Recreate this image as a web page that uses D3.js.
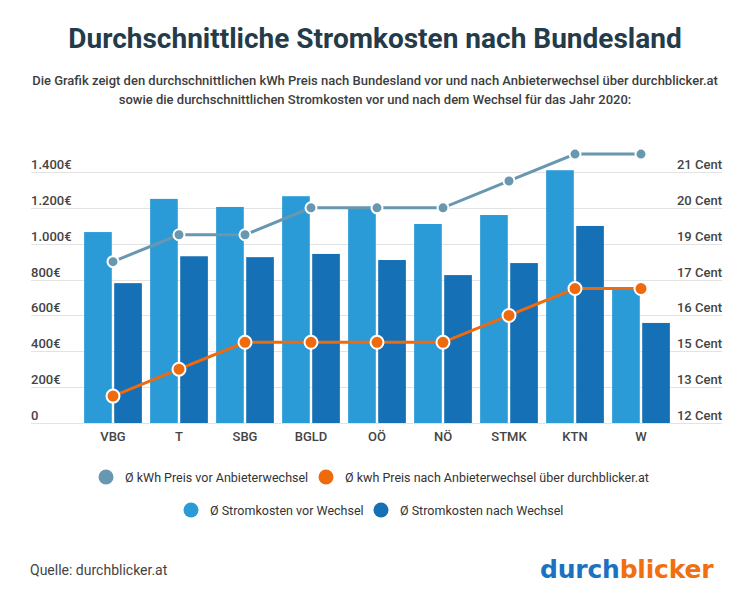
<!DOCTYPE html>
<html>
<head>
<meta charset="utf-8">
<script src="https://cdn.jsdelivr.net/npm/d3@7"></script>
<style>
  html, body { margin: 0; padding: 0; background: #fff; }
  svg { display: block; font-family: Roboto, "Noto Sans", sans-serif; }
</style>
</head>
<body>
<svg id="chart" width="750" height="600"></svg>
<script>
// ---- data ----
const categories = ["VBG", "T", "SBG", "BGLD", "OÖ", "NÖ", "STMK", "KTN", "W"];
const kostenVor = [1065, 1250, 1205, 1265, 1205, 1110, 1160, 1410, 750];
const kostenNach = [780, 930, 925, 943, 909, 825, 892, 1099, 558];
const preisVor = [18, 19, 19, 20, 20, 20, 21, 22, 22];
const preisNach = [13, 14, 15, 15, 15, 15, 16, 17, 17];
const leftTicks = [0, 200, 400, 600, 800, 1000, 1200, 1400];
const rightTicks = [12, 40/3, 44/3, 16, 52/3, 56/3, 20, 64/3];
const legendRow1 = ["Ø kWh Preis vor Anbieterwechsel", "Ø kwh Preis nach Anbieterwechsel über durchblicker.at"];
const legendRow2 = ["Ø Stromkosten vor Wechsel", "Ø Stromkosten nach Wechsel"];

const colVor = "#2b9bd7", colNach = "#1670b6", colGray = "#6897b0", colOrange = "#ef6a0c";

const svg = d3.select("#chart");

// title
svg.append("text").attr("x", 375).attr("y", 48).attr("text-anchor", "middle")
  .attr("font-size", 28).attr("font-weight", 700).attr("fill", "#243b4a")
  .text("Durchschnittliche Stromkosten nach Bundesland");
svg.append("text").attr("x", 375).attr("y", 85).attr("text-anchor", "middle")
  .attr("font-size", 13).attr("font-weight", 500).attr("fill", "#3d3d3d")
  .text("Die Grafik zeigt den durchschnittlichen kWh Preis nach Bundesland vor und nach Anbieterwechsel über durchblicker.at");
svg.append("text").attr("x", 375).attr("y", 104).attr("text-anchor", "middle")
  .attr("font-size", 13).attr("font-weight", 500).attr("fill", "#3d3d3d")
  .text("sowie die durchschnittlichen Stromkosten vor und nach dem Wechsel für das Jahr 2020:");

// scales
const y = d3.scaleLinear().domain([0, 1400]).range([423, 172]);
const y2 = d3.scaleLinear().domain([12, 64/3]).range([423, 172]);
const x0 = d3.scaleBand().domain(categories).range([80, 674]).paddingInner(0.125).paddingOuter(0.0625);
const x1 = d3.scaleBand().domain(["vor", "nach"]).range([0, x0.bandwidth()]).paddingInner(0.08);

// grid
const grid = svg.append("g");
grid.selectAll("line").data(leftTicks).join("line")
  .attr("x1", 31).attr("x2", 722)
  .attr("y1", d => Math.round(y(d)) + 0.5).attr("y2", d => Math.round(y(d)) + 0.5)
  .attr("stroke", "#e3e3e3").attr("stroke-width", 1);

// left axis labels
const fmt = d => d === 0 ? "0" : d3.format(",")(d).replace(/,/g, ".") + "€";
svg.append("g").selectAll("text").data(leftTicks).join("text")
  .attr("x", 31).attr("y", d => y(d) - 3)
  .attr("font-size", 13).attr("font-weight", 500).attr("fill", "#444")
  .text(fmt);

// right axis labels
svg.append("g").selectAll("text").data(rightTicks).join("text")
  .attr("x", 722).attr("y", d => y2(d) - 3).attr("text-anchor", "end")
  .attr("font-size", 13).attr("font-weight", 500).attr("fill", "#444")
  .text(d => Math.round(d) + " Cent");

// bars
const groups = svg.append("g").selectAll("g").data(categories).join("g")
  .attr("transform", d => `translate(${x0(d)},0)`);
groups.append("rect")
  .attr("x", x1("vor")).attr("width", x1.bandwidth())
  .attr("y", (d, i) => y(kostenVor[i])).attr("height", (d, i) => y(0) - y(kostenVor[i]))
  .attr("fill", colVor);
groups.append("rect")
  .attr("x", x1("nach")).attr("width", x1.bandwidth())
  .attr("y", (d, i) => y(kostenNach[i])).attr("height", (d, i) => y(0) - y(kostenNach[i]))
  .attr("fill", colNach);

// x labels
svg.append("g").selectAll("text").data(categories).join("text")
  .attr("x", d => x0(d) + x0.bandwidth() / 2).attr("y", 441)
  .attr("text-anchor", "middle").attr("font-size", 13).attr("font-weight", 500).attr("fill", "#444")
  .text(d => d);

// lines
const cx = d => x0(d) + x0.bandwidth() / 2;
function drawLine(vals, color, r) {
  const line = d3.line().x((d, i) => cx(categories[i])).y(d => y2(d));
  svg.append("path").datum(vals).attr("d", line)
    .attr("fill", "none").attr("stroke", color).attr("stroke-width", 3);
  svg.append("g").selectAll("circle").data(vals).join("circle")
    .attr("cx", (d, i) => cx(categories[i])).attr("cy", d => y2(d)).attr("r", r)
    .attr("fill", color).attr("stroke", "#fff").attr("stroke-width", 2);
}
drawLine(preisVor, colGray, 5.5);
drawLine(preisNach, colOrange, 6.5);

// legend
function legendItem(cxp, cyp, color, label) {
  svg.append("circle").attr("cx", cxp).attr("cy", cyp).attr("r", 7.5).attr("fill", color);
  svg.append("text").attr("x", cxp + 19).attr("y", cyp + 4.5)
    .attr("font-size", 12.5).attr("font-weight", 400).attr("fill", "#333").text(label);
}
legendItem(106, 477, colGray, legendRow1[0]);
legendItem(326, 477, colOrange, legendRow1[1]);
legendItem(191, 510, colVor, legendRow2[0]);
legendItem(381, 510, colNach, legendRow2[1]);

// footer
svg.append("text").attr("x", 30).attr("y", 575)
  .attr("font-size", 14).attr("font-weight", 400).attr("fill", "#444").text("Quelle: durchblicker.at");
const logo = svg.append("text").attr("x", 540).attr("y", 578)
  .attr("font-family", "'DejaVu Sans', sans-serif")
  .attr("font-size", 25).attr("font-weight", 700).attr("letter-spacing", -0.2);
logo.append("tspan").attr("fill", "#1a72c0").text("durch");
logo.append("tspan").attr("fill", "#f07010").text("blicker");
</script>
</body>
</html>
